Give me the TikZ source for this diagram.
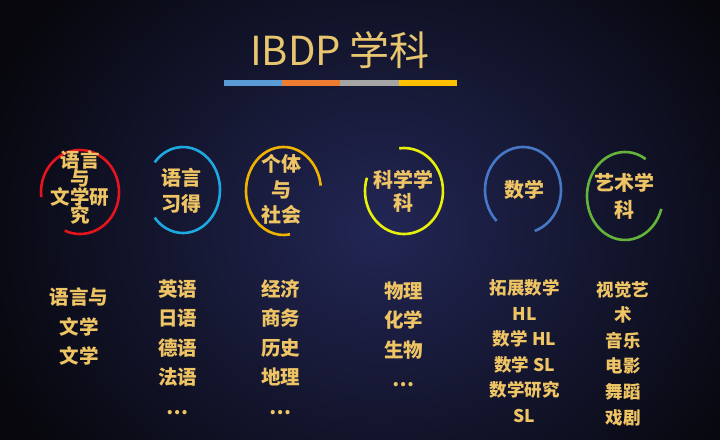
\documentclass[tikz,border=0pt]{standalone}
\usepackage{fontspec}
\newfontfamily\cjk{Noto Sans CJK SC}
\definecolor{bgin}{RGB}{34,38,84}
\definecolor{bgout}{RGB}{7,7,13}
\definecolor{gold}{RGB}{238,196,100}
\definecolor{titlegold}{RGB}{232,198,112}
\definecolor{barblue}{RGB}{91,155,213}
\definecolor{barorange}{RGB}{237,125,49}
\definecolor{bargray}{RGB}{165,165,165}
\definecolor{baryellow}{RGB}{255,192,0}
\definecolor{ringred}{RGB}{230,20,30}
\definecolor{ringcyan}{RGB}{30,168,224}
\definecolor{ringgold}{RGB}{240,180,0}
\definecolor{ringyellow}{RGB}{232,240,10}
\definecolor{ringblue}{RGB}{70,120,200}
\definecolor{ringgreen}{RGB}{100,180,60}
\begin{document}
\lineskiplimit=-30pt\relax
\lineskip=0pt\relax
\begin{tikzpicture}[x=1pt,y=1pt,
  ring/.style={line width=2.6pt},
  lbl/.style={text=gold, align=center, inner sep=0pt,
    font=\cjk\bfseries\fontsize{20}{26}\selectfont},
  lst/.style={text=gold, align=center, inner sep=0pt,
    font=\cjk\bfseries\fontsize{19.5}{29.5}\selectfont},
  lsts/.style={text=gold, align=center, inner sep=0pt,
    font=\cjk\bfseries\fontsize{17.5}{25.6}\selectfont},
  barseg/.style={draw=none}
]
\useasboundingbox (0,0) rectangle (720,-439);
\begin{scope}
  \clip (0,0) rectangle (720,-439);
  \shade[inner color=bgin, outer color=bgout] (-40,130) rectangle (800,-590);
\end{scope}

% title
\node[text=titlegold, inner sep=0pt, anchor=base, font=\cjk\fontsize{40}{44}\selectfont] (title) at (340,-65) {IBDP 学科};
\fill[barseg, barblue]   (224,-80) rectangle (282,-86);
\fill[barseg, barorange] (282,-80) rectangle (340,-86);
\fill[barseg, bargray]   (340,-80) rectangle (399,-86);
\fill[barseg, baryellow] (399,-80) rectangle (457,-86);

% ring centres
\coordinate (c1) at (80,-192);
\coordinate (c2) at (183,-190);
\coordinate (c3) at (283.5,-191);
\coordinate (c4) at (404,-191);
\coordinate (c5) at (523,-190);
\coordinate (c6) at (625,-196);

\draw[ring, ringred]    (c1) ++(-113:39pt and 42pt) arc[start angle=-113, end angle=187, x radius=39pt, y radius=42pt];
\draw[ring, ringcyan]   (c2) ++(-140:37pt and 43pt) arc[start angle=-140, end angle=140, x radius=37pt, y radius=43pt];
\draw[ring, ringgold]   (c3) ++(7:37.5pt and 44pt) arc[start angle=7, end angle=280, x radius=37.5pt, y radius=44pt];
\draw[ring, ringyellow] (c4) ++(162:39pt and 43pt) arc[start angle=162, end angle=457, x radius=39pt, y radius=43pt];
\draw[ring, ringblue]   (c5) ++(-72:38pt and 43pt) arc[start angle=-72, end angle=226, x radius=38pt, y radius=43pt];
\draw[ring, ringgreen]  (c6) ++(57:38pt and 44pt) arc[start angle=57, end angle=343, x radius=38pt, y radius=44pt];

% ring labels
\node[lbl, font=\cjk\bfseries\fontsize{19.5}{18.5}\selectfont] (t1) at (80,-187.5) {语言\\与\\文学研\\究};
\node[lbl] (t2) at (181,-191) {语言\\习得};
\node[lbl, font=\cjk\bfseries\fontsize{20}{25.5}\selectfont] (t3) at (281,-189.5) {个体\\与\\社会};
\node[lbl, font=\cjk\bfseries\fontsize{20}{23.5}\selectfont] (t4) at (403,-191.5) {科学学\\科};
\node[lbl] (t5) at (524.5,-190) {数学};
\node[lbl, font=\cjk\bfseries\fontsize{20}{27}\selectfont] (t6) at (624,-196.5) {艺术学\\科};

% lists
\node[lst] (l1) at (79,-326.5) {语言与\\文学\\文学};
\node[lst] (l2) at (177.5,-347) {英语\\日语\\德语\\法语\\…};
\node[lst] (l3) at (280.5,-347) {经济\\商务\\历史\\地理\\…};
\node[lst] (l4) at (403.5,-334.5) {物理\\化学\\生物\\…};
\node[lsts] (l5) at (524.5,-351) {拓展数学\\HL\\数学 HL\\数学 SL\\数学研究\\SL};
\node[lsts] (l6) at (623,-353.5) {视觉艺\\术\\音乐\\电影\\舞蹈\\戏剧};
\end{tikzpicture}
\end{document}
